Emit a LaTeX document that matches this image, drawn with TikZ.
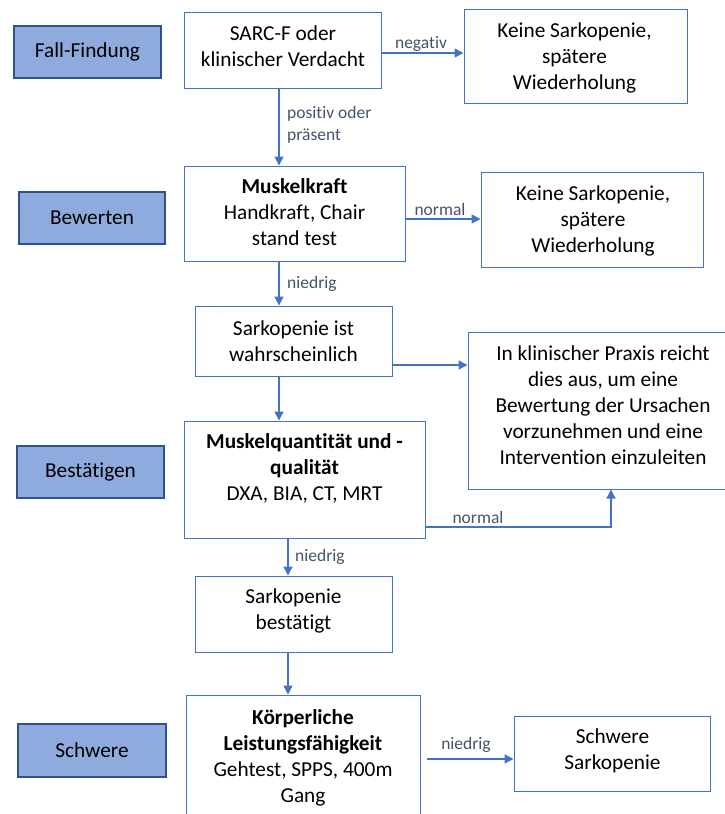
\documentclass[tikz,border=0pt]{standalone}
\usepackage{fontspec}
\setmainfont{Carlito}[Ligatures=NoCommon]
\usetikzlibrary{arrows.meta}
\definecolor{conn}{HTML}{4472C4}
\definecolor{boxb}{HTML}{4472C4}
\definecolor{lfill}{HTML}{8FAADC}
\definecolor{ldraw}{HTML}{2F528F}
\definecolor{lbl}{HTML}{44546A}
\tikzset{
  mbox/.style={draw=boxb, line width=1pt, inner sep=0pt},
  side/.style={draw=ldraw, fill=lfill, line width=1.2pt, inner sep=0pt,
    minimum width=147pt, minimum height=52pt, font=\fontsize{21.3}{26}\selectfont},
  txt/.style={align=center, inner sep=0pt, font=\fontsize{21.3}{26}\selectfont},
  lab/.style={text=lbl, inner sep=0pt, font=\fontsize{17.5}{22}\selectfont},
  arr/.style={draw=conn, line width=1.3pt, -{Triangle[length=9pt,width=9pt]}}
}
\begin{document}
\begin{tikzpicture}[x=1pt,y=-1pt]
\useasboundingbox (0,0) rectangle (724,814);
\fill[white] (0,0) rectangle (724,814);

% left stage boxes
\node[side] (ff) at (87.5,52) {Fall-Findung};
\node[side, minimum width=146pt] (bw) at (92,218) {Bewerten};
\node[side] (bs) at (90.5,472) {Bestätigen};
\node[side, minimum width=148pt, minimum height=53pt] (sw) at (92,750.5) {Schwere};

% main boxes
\node[mbox, minimum width=197pt, minimum height=76pt] (sarc) at (282.5,50) {};
\node[txt] (sarct) at (283,46.5) {SARC-F oder\\klinischer Verdacht};

\node[mbox, minimum width=223pt, minimum height=94pt] (keine1) at (575.5,56) {};
\node[txt] (keine1t) at (574.5,58) {Keine Sarkopenie,\\spätere\\Wiederholung};

\node[mbox, minimum width=221pt, minimum height=95pt] (mk) at (294.5,213.5) {};
\node[txt] (mkt) at (294.5,212) {\textbf{Muskelkraft}\\Handkraft, Chair\\stand test};

\node[mbox, minimum width=222pt, minimum height=95pt] (keine2) at (592,219.5) {};
\node[txt] (keine2t) at (593,220.5) {Keine Sarkopenie,\\spätere\\Wiederholung};

\node[mbox, minimum width=197pt, minimum height=70pt] (wahr) at (293.5,341) {};
\node[txt] (wahrt) at (293.5,341) {Sarkopenie ist\\wahrscheinlich};

\node[mbox, minimum width=270pt, minimum height=157pt] (praxis) at (603,410.5) {};
\node[txt] (praxist) at (603,405) {In klinischer Praxis reicht\\dies aus, um eine\\Bewertung der Ursachen\\vorzunehmen und eine\\Intervention einzuleiten};

\node[mbox, minimum width=241pt, minimum height=117pt] (mq) at (304.5,479.5) {};
\node[txt] (mqt) at (304.5,468) {\textbf{Muskelquantität und -}\\\textbf{qualität}\\DXA, BIA, CT, MRT};

\node[mbox, minimum width=197pt, minimum height=76pt] (best) at (293.5,614) {};
\node[txt] (bestt) at (293.5,611) {Sarkopenie\\bestätigt};

\node[mbox, minimum width=234pt, minimum height=127pt] (kl) at (303,758.5) {};
\node[txt] (klt) at (303,758) {\textbf{Körperliche}\\\textbf{Leistungsfähigkeit}\\Gehtest, SPPS, 400m\\Gang};

\node[mbox, minimum width=196pt, minimum height=75pt] (ss) at (612,753.5) {};
\node[txt] (sst) at (612.5,751) {Schwere\\Sarkopenie};

% helper coordinates
\coordinate (xa) at (279,0);
\coordinate (xb) at (288,0);
\coordinate (xc) at (611,0);
\coordinate (ya) at (0,53);
\coordinate (yb) at (0,219);
\coordinate (yc) at (0,365);
\coordinate (yd) at (0,527);
\coordinate (ye) at (0,759);

% connectors
\draw[arr] (sarc.south -| xa) -- (mk.north -| xa);
\draw[arr] (sarc.east |- ya) -- (keine1.west |- ya);
\draw[arr] (mk.east |- yb) -- (keine2.west |- yb);
\draw[arr] (mk.south -| xa) -- (wahr.north -| xa);
\draw[arr] (wahr.east |- yc) -- (praxis.west |- yc);
\draw[arr] (wahr.south -| xa) -- (mq.north -| xa);
\draw[arr] (mq.east |- yd) -| (praxis.south -| xc);
\draw[arr] (mq.south -| xb) -- (best.north -| xb);
\draw[arr] (best.south -| xb) -- (kl.north -| xb);
\draw[arr, shorten <=6pt] (kl.east |- ye) -- (ss.west |- ye);

% connector labels
\node[lab, align=left, anchor=west] (l1) at (287,124.6) {positiv oder\\präsent};
\node[lab, anchor=base] (l2) at (421,48.5) {negativ};
\node[lab, anchor=base] (l3) at (440,215.5) {normal};
\node[lab, anchor=base west] (l4) at (287,288) {niedrig};
\node[lab, anchor=base] (l5) at (478,523) {normal};
\node[lab, anchor=base west] (l6) at (295,561) {niedrig};
\node[lab, anchor=base] (l7) at (466,749) {niedrig};
\end{tikzpicture}
\end{document}
